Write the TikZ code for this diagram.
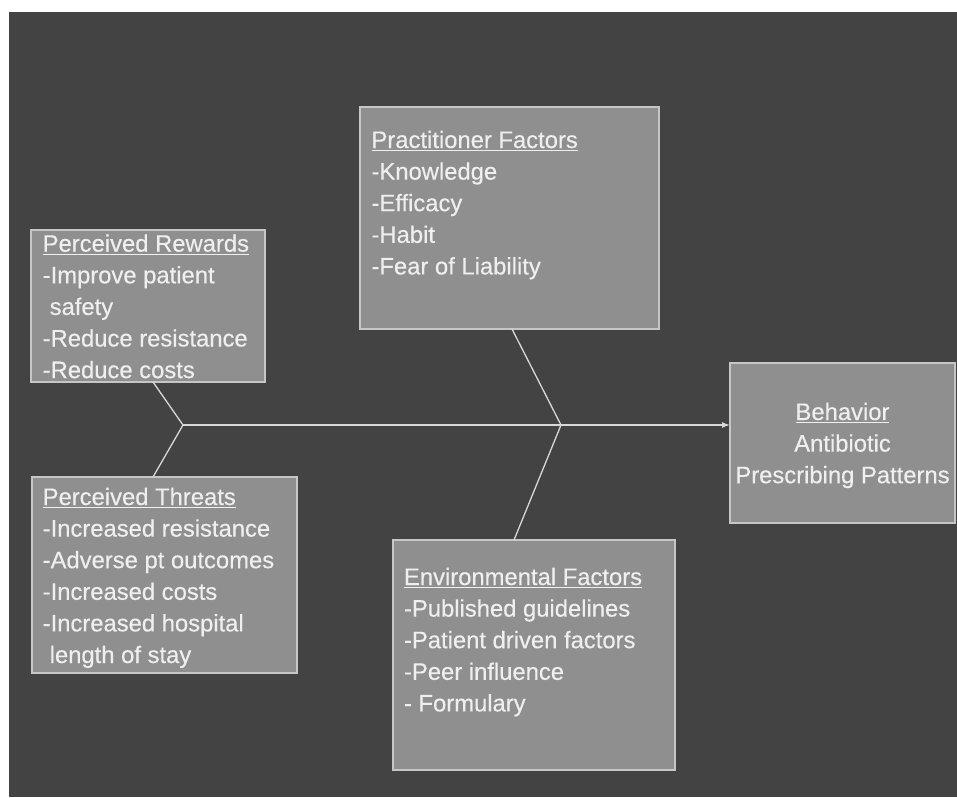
\documentclass[tikz,border=0pt]{standalone}
\usepackage{fontspec}
\setmainfont{Liberation Sans}[FakeBold=0.4]
\usetikzlibrary{arrows.meta}
\definecolor{bgc}{HTML}{434343}
\definecolor{boxc}{HTML}{8F8F8F}
\definecolor{edgec}{HTML}{C6C6C6}
\definecolor{txtc}{HTML}{EFEFEF}
\definecolor{linec}{HTML}{D8D8D8}
\newcommand\ulx[1]{\setbox0\hbox{#1}\rlap{\rule[-3.4pt]{\wd0}{1.4pt}}\box0}
\newcommand\txtfont{\fontsize{23.8}{31.6}\selectfont}
\begin{document}
\begin{tikzpicture}[x=1pt,y=-1pt,
  box/.style={draw=edgec,fill=boxc,line width=1.3pt,rectangle,inner sep=0pt,outer sep=0pt,anchor=north west},
  lbl/.style={text=txtc,inner sep=0pt,outer sep=0pt,font=\txtfont},
  bone/.style={draw=linec,line width=1.3pt}]
\useasboundingbox (0,0) rectangle (957,797);
\fill[white] (0,0) rectangle (957,797);
\fill[bgc] (9,12) rectangle (957,797);
% boxes
\node[box,minimum width=234pt,minimum height=152pt] (rew) at (31,230) {};
\node[box,minimum width=265pt,minimum height=196pt] (thr) at (32,477) {};
\node[box,minimum width=299pt,minimum height=222pt] (pra) at (360,107) {};
\node[box,minimum width=282pt,minimum height=230pt] (env) at (393,540) {};
\node[box,minimum width=225pt,minimum height=160pt] (beh) at (730,363) {};
% texts
\node[lbl,anchor=base west] (rewt) at (42.7,251.7) {\begin{tabular}[t]{@{}l@{}}\ulx{Perceived Rewards}\\-Improve patient\\\hspace*{7pt}safety\\-Reduce resistance\\-Reduce costs\end{tabular}};
\node[lbl,anchor=base west] (thrt) at (42.7,505) {\begin{tabular}[t]{@{}l@{}}\ulx{Perceived Threats}\\-Increased resistance\\-Adverse pt outcomes\\-Increased costs\\-Increased hospital\\\hspace*{7pt}length of stay\end{tabular}};
\node[lbl,anchor=base west] (prat) at (371.5,148) {\begin{tabular}[t]{@{}l@{}}\ulx{Practitioner Factors}\\-Knowledge\\-Efficacy\\-Habit\\-Fear of Liability\end{tabular}};
\node[lbl,anchor=base west] (envt) at (404,585) {\begin{tabular}[t]{@{}l@{}}\ulx{Environmental Factors}\\-Published guidelines\\-Patient driven factors\\-Peer influence\\- Formulary\end{tabular}};
\node[lbl,anchor=base] (beht) at (842.5,420) {\begin{tabular}[t]{@{}c@{}}\ulx{Behavior}\\Antibiotic\\Prescribing Patterns\end{tabular}};
% fishbone
\coordinate (j1) at (183,425);
\coordinate (j2) at (561,425);
\draw[bone] ([xshift=122pt]rew.south west) -- (j1) -- ([xshift=121pt]thr.north west);
\draw[bone] ([xshift=152pt]pra.south west) -- (j2) -- ([xshift=121pt]env.north west);
\draw[bone,-{Latex[length=8pt,width=6pt]}] (j1) -- (j1 -| beh.west);
\end{tikzpicture}
\end{document}
